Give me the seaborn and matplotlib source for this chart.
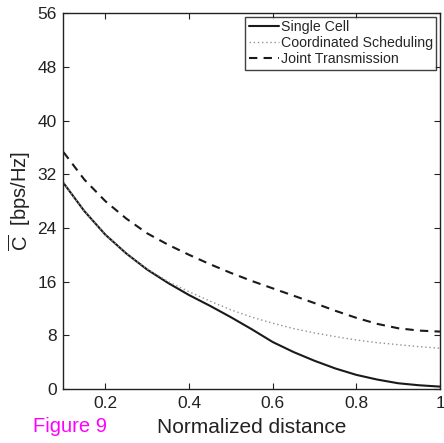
import pandas as pd
import matplotlib
matplotlib.use("Agg")
import matplotlib.pyplot as plt
import seaborn as sns

# data
distance = [0.10, 0.15, 0.20, 0.25, 0.30, 0.35, 0.40, 0.45, 0.50, 0.55,
            0.60, 0.65, 0.70, 0.75, 0.80, 0.85, 0.90, 0.95, 1.00]
single_cell = [30.7, 26.5, 23.0, 20.2, 17.8, 15.8, 14.0, 12.4, 10.7, 8.9,
               7.0, 5.5, 4.2, 3.05, 2.1, 1.4, 0.85, 0.55, 0.35]
coord_sched = [30.7, 26.5, 23.0, 20.2, 17.9, 16.0, 14.5, 13.1, 11.8, 10.7,
               9.8, 9.0, 8.35, 7.8, 7.3, 6.9, 6.6, 6.3, 6.07]
joint_tx = [35.3, 31.2, 28.0, 25.4, 23.2, 21.5, 20.0, 18.6, 17.3, 16.1,
            15.0, 13.9, 12.8, 11.65, 10.6, 9.7, 9.05, 8.7, 8.55]
series_names = ["Single Cell", "Coordinated Scheduling", "Joint Transmission"]
x_ticks = [0.2, 0.4, 0.6, 0.8, 1.0]
x_ticklabels = ["0.2", "0.4", "0.6", "0.8", "1"]
y_ticks = [0, 8, 16, 24, 32, 40, 48, 56]

sns.set_style("ticks")
plt.rcParams["font.family"] = ["Liberation Sans", "DejaVu Sans"]
plt.rcParams["mathtext.fontset"] = "custom"
plt.rcParams["mathtext.rm"] = "Liberation Sans"

df = pd.concat([
    pd.DataFrame({"x": distance, "y": vals, "series": name})
    for name, vals in zip(series_names, [single_cell, coord_sched, joint_tx])
], ignore_index=True)

fig = plt.figure(figsize=(4.44, 4.43), dpi=100)
ax = fig.add_axes([0.143, 0.122, 0.848, 0.848])

styles = {
    "Single Cell": dict(color="#1a1a1a", linestyle="-", linewidth=1.5),
    "Coordinated Scheduling": dict(color="#909090", linestyle=(0, (1, 2)), linewidth=1.0),
    "Joint Transmission": dict(color="#1a1a1a", linestyle=(0, (4, 3)), linewidth=1.5),
}
for name in series_names:
    sns.lineplot(data=df[df["series"] == name], x="x", y="y", ax=ax,
                 label=name, **styles[name])

ax.set_xlim(0.1, 1.0)
ax.set_ylim(0, 56)
ax.set_xticks(x_ticks)
ax.set_xticklabels(x_ticklabels)
ax.set_yticks(y_ticks)
ax.tick_params(direction="in", top=True, right=True, length=4, width=0.8,
               labelsize=12.5, colors="#222222", pad=5)
for s in ax.spines.values():
    s.set_linewidth(1.0)
    s.set_color("#222222")

ax.set_xlabel("Normalized distance", fontsize=15, color="#222222", labelpad=5)
ax.set_ylabel(r"$\overline{\mathrm{C}}$  [bps/Hz]", fontsize=14.5, color="#222222", labelpad=3)

leg = ax.legend(loc="upper right", fontsize=10.2, frameon=True, fancybox=False,
                handlelength=2.1, handletextpad=0.15, borderpad=0.25,
                labelspacing=0.14, borderaxespad=0.25)
leg.get_frame().set_edgecolor("#111111")
leg.get_frame().set_linewidth(1.0)

fig.text(0.074, 0.025, "Figure 9", color="#ff00ff", fontsize=14.5, va="baseline")

fig.savefig("out.png", dpi=100)
